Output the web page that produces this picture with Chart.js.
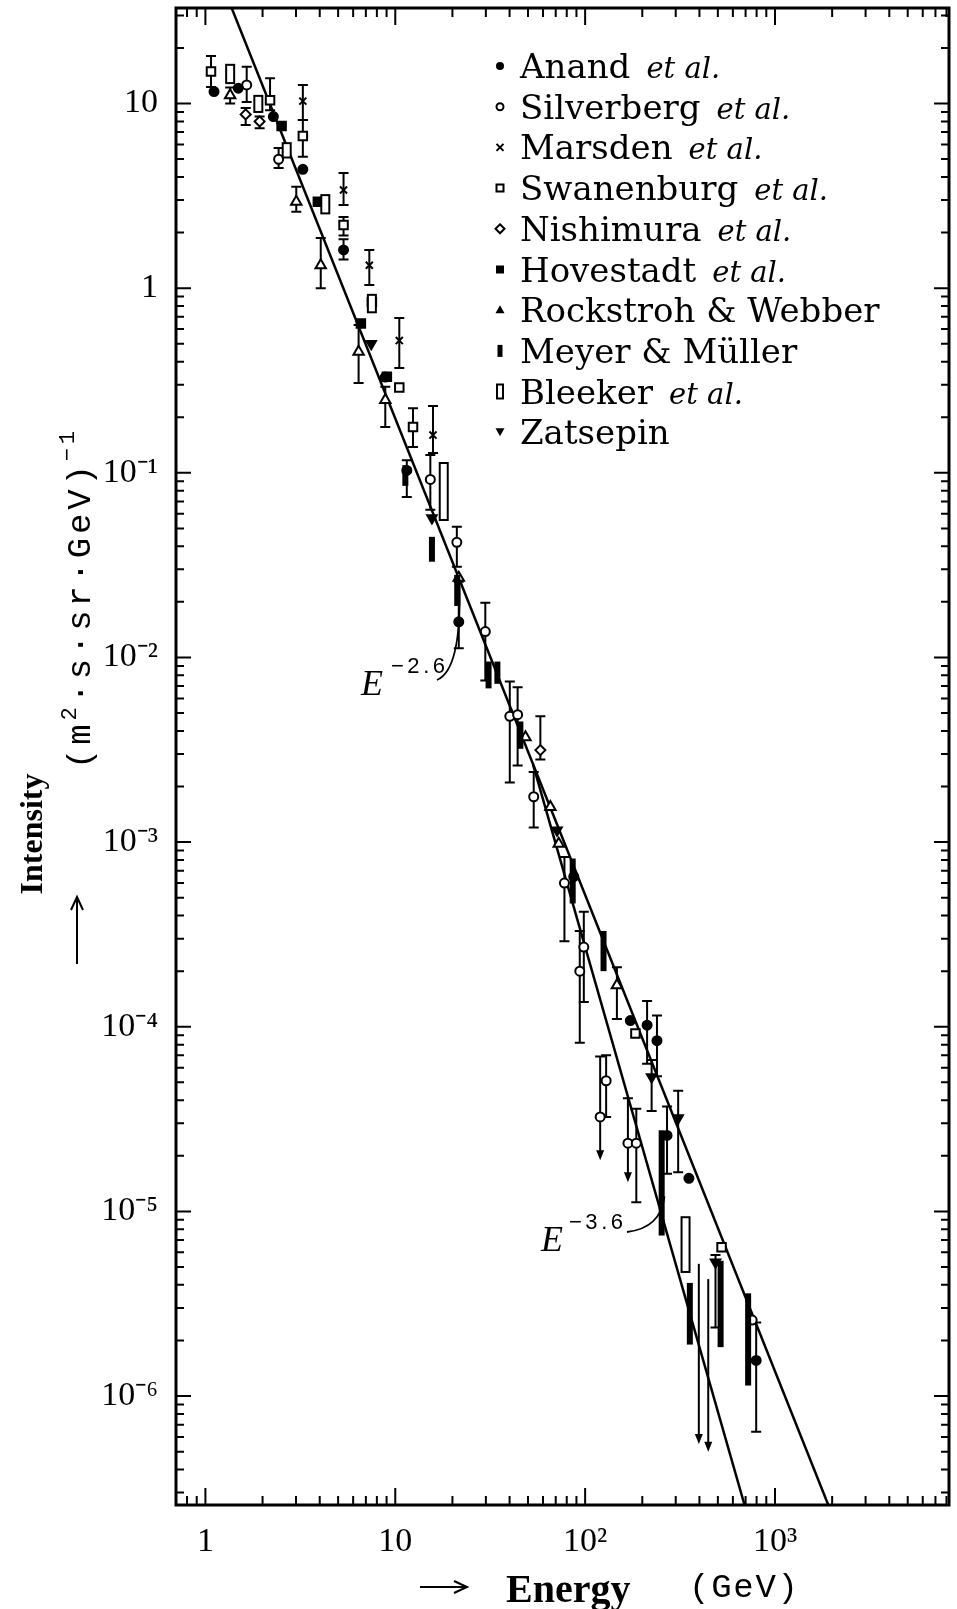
<!DOCTYPE html>
<html>
<head>
<meta charset="utf-8">
<title>Intensity vs Energy</title>
<script src="https://cdn.jsdelivr.net/npm/chart.js@4.4.1/dist/chart.umd.min.js"></script>
<style>
  html, body { margin: 0; padding: 0; background: #fff; }
  canvas { display: block; }
</style>
</head>
<body>
<canvas id="chart" width="957" height="1609"></canvas>
<script>
// each row: [energy (GeV), intensity, lower end, upper end, arrow down to]
const anand = [
  [1.11, 11.6], [1.49, 12.1], [2.28, 8.5], [3.26, 4.4],
  [5.34, 1.61, 1.43, 1.84], [8.86, 0.33], [11.5, 0.103, 0.074, 0.117],
  [21.6, 0.0156, 0.0112, 0.0257], [87.1, 6.5e-4], [173, 1.08e-4],
  [212, 1.02e-4, 6.3e-5, 1.38e-4], [239, 8.4e-5, 5.4e-5, 1.15e-4],
  [270, 2.58e-5, 1.6e-5, 3.7e-5], [352, 1.51e-5], [796, 1.56e-6, 6.4e-7, 2.5e-6]
];
const silverberg = [
  [1.65, 12.6, 10.2, 15.8], [2.43, 4.99, 4.48, 5.74], [15.3, 0.092, 0.063, 0.125],
  [21.1, 0.042, 0.031, 0.051], [29.8, 0.0138, 0.0075, 0.0198], [40.1, 0.0048, 0.0021, 0.0074],
  [44.1, 0.0049, 0.0026, 0.0069], [53.6, 0.00176, 0.0012, 0.0024], [77.8, 6.0e-4, 2.9e-4, 8.3e-4],
  [93.7, 2.0e-4, 8.2e-5, 3.3e-4], [98.4, 2.7e-4, 1.36e-4, 4.2e-4], [129, 5.1e-5, 3.25e-5, 7.0e-5],
  [120, 3.25e-5, null, 6.9e-5, 1.89e-5], [168, 2.34e-5, null, 4.1e-5, 1.44e-5],
  [186, 2.34e-5, 1.12e-5, 3.6e-5], [758, 2.58e-6]
];
const marsden = [
  [3.26, 10.3, 8.15, 12.6], [5.34, 3.4, 2.82, 4.21], [7.30, 1.33, 1.04, 1.61],
  [10.5, 0.52, 0.37, 0.69], [15.8, 0.16, 0.128, 0.23]
];
const swanenburg = [
  [1.07, 14.9, 12.3, 18.1], [2.19, 10.4, 9.2, 13.7], [3.26, 6.67, 5.15, 8.15],
  [5.34, 2.2, 1.93, 2.43], [7.53, 0.84], [10.5, 0.29], [12.4, 0.177, 0.138, 0.224],
  [184, 9.2e-5], [523, 6.4e-6]
];
const nishimura = [
  [1.63, 8.73, 7.65, 9.46], [1.93, 8.0, 7.35, 8.5], [58.1, 0.00315, 0.0028, 0.0048]
];
const hovestadt = [
  [2.52, 7.55], [3.91, 2.94], [6.59, 0.644], [9.03, 0.331]
];
const rockstroh = [
  [1.35, 11.1, 10.0, 12.2], [3.01, 2.94, 2.59, 3.54], [4.05, 1.33, 1.0, 1.87],
  [6.41, 0.452, 0.306, 0.631], [8.86, 0.248, 0.177, 0.292], [21.6, 0.027],
  [48.5, 0.0037], [65.6, 0.00155], [72.6, 0.00098], [147, 1.68e-4, 1.1e-4, 2.1e-4]
];
// box series: [energy, intensity, bottom of box, top of box]
const meyer = [
  [11.3, 0.097, 0.085, 0.11], [15.6, 0.039, 0.033, 0.045], [21.2, 0.023, 0.019, 0.028],
  [31.0, 0.008, 0.0068, 0.0095], [34.5, 0.0083, 0.0072, 0.0095], [45.6, 0.0038, 0.0032, 0.0045],
  [86.0, 6.2e-4, 4.65e-4, 8.15e-4], [125, 2.5e-4, 2.0e-4, 3.3e-4], [253, 1.4e-5, 7.4e-6, 2.75e-5],
  [356, 2.8e-6, 1.9e-6, 4.1e-6], [517, 3.2e-6, 1.84e-6, 5.4e-6], [722, 2.0e-6, 1.14e-6, 3.6e-6]
];
const bleeker = [
  [1.35, 14.4, 12.9, 16.2], [1.90, 10.0, 9.0, 11.0], [2.68, 5.6, 5.1, 6.1],
  [4.28, 2.85, 2.54, 3.19], [7.53, 0.83, 0.74, 0.92], [18.0, 0.08, 0.0555, 0.113],
  [338, 6.5e-6, 4.7e-6, 9.3e-6]
];
const zatsepin = [
  [7.47, 0.50], [15.6, 0.057], [71.1, 0.00116], [224, 5.35e-5, 3.5e-5, 6.6e-5],
  [309, 3.2e-5, 1.63e-5, 4.5e-5], [486, 5.3e-6, 2.35e-6, 5.8e-6]
];
// bare upper limits (no symbol)
const limits = [
  [397, 5.2e-6, null, null, 5.5e-7], [445, 4.3e-6, null, null, 5.0e-7]
];

// fitted power laws, two end points each
const lineE26 = [[1.26, 41.2], [2104, 2.0e-7]];
const lineE36 = [[53.2, 2.63e-3], [741, 2.0e-7]];
// where the label leaders end
const leader26 = [21.8, 0.026];
const leader36 = [262, 1.25e-5];

const xMajor = [1, 10, 100, 1000];
const xMajorLabels = ['1', '10', '10²', '10³'];
const yMajor = [1e-6, 1e-5, 1e-4, 1e-3, 1e-2, 1e-1, 1, 10];
const yMajorLabels = ['10⁻⁶', '10⁻⁵', '10⁻⁴', '10⁻³', '10⁻²', '10⁻¹', '1', '10'];

const legendNames = ['Anand', 'Silverberg', 'Marsden', 'Swanenburg', 'Nishimura', 'Hovestadt',
  'Rockstroh & Webber', 'Meyer & Müller', 'Bleeker', 'Zatsepin'];
const legendEtAl = [true, true, true, true, true, true, false, false, true, false];
const legendMarks = ['dot', 'circle', 'cross', 'square', 'diamond', 'fsquare', 'triangle', 'bar', 'box', 'itri'];

const X_MIN = 0.706, X_MAX = 8250, Y_MIN = 2.57e-7, Y_MAX = 32.9;

// helpers
function pts(rows) { return rows.map(r => ({ x: r[0], y: r[1] })); }

function withMinors(majors, bases, min, max) {
  let out = majors.slice();
  bases.forEach(b => {
    for (let m = 2; m <= 9; m++) {
      let v = m * b;
      if (v >= min && v <= max) out.push(v);
    }
  });
  return out.filter(v => v >= min && v <= max).sort((a, b) => a - b);
}
const xTicks = withMinors(xMajor, [0.1, 1, 10, 100, 1000], X_MIN, X_MAX);
const yTicks = withMinors(yMajor, [1e-7, 1e-6, 1e-5, 1e-4, 1e-3, 1e-2, 1e-1, 1, 10], Y_MIN, Y_MAX);

function isMajor(v) {
  let l = Math.log10(v);
  return Math.abs(l - Math.round(l)) < 1e-6;
}

function runWidth(ctx, parts, spacing) {
  let w = 0;
  parts.forEach(p => {
    ctx.font = p.font;
    for (const ch of p.text) w += ctx.measureText(ch).width + spacing;
  });
  return w - spacing;
}
function drawRun(ctx, parts, x, y, spacing, align) {
  let w = runWidth(ctx, parts, spacing);
  let cx = align === 'center' ? x - w / 2 : x;
  parts.forEach(p => {
    ctx.font = p.font;
    for (const ch of p.text) {
      ctx.fillText(ch, cx, y + (p.dy || 0));
      cx += ctx.measureText(ch).width + spacing;
    }
  });
}
function spacingFor(ctx, parts, target) {
  let n = 0;
  parts.forEach(p => n += [...p.text].length);
  let w = runWidth(ctx, parts, 0);
  return (target - w) / (n - 1);
}

function drawMark(ctx, kind, x, y) {
  ctx.save();
  ctx.lineWidth = 2;
  ctx.strokeStyle = '#000';
  ctx.fillStyle = '#000';
  ctx.beginPath();
  if (kind === 'dot') { ctx.arc(x, y, 4, 0, Math.PI * 2); ctx.fill(); }
  else if (kind === 'circle') { ctx.arc(x, y, 3.5, 0, Math.PI * 2); ctx.stroke(); }
  else if (kind === 'cross') {
    ctx.moveTo(x - 3.5, y - 3.5); ctx.lineTo(x + 3.5, y + 3.5);
    ctx.moveTo(x + 3.5, y - 3.5); ctx.lineTo(x - 3.5, y + 3.5); ctx.stroke();
  }
  else if (kind === 'square') { ctx.rect(x - 3.5, y - 3.5, 7, 7); ctx.stroke(); }
  else if (kind === 'diamond') {
    ctx.moveTo(x, y - 4.5); ctx.lineTo(x + 4.5, y); ctx.lineTo(x, y + 4.5); ctx.lineTo(x - 4.5, y);
    ctx.closePath(); ctx.stroke();
  }
  else if (kind === 'fsquare') { ctx.rect(x - 4, y - 4, 8, 8); ctx.fill(); }
  else if (kind === 'triangle') {
    ctx.moveTo(x, y - 5); ctx.lineTo(x + 4.5, y + 3); ctx.lineTo(x - 4.5, y + 3);
    ctx.closePath(); ctx.fill();
  }
  else if (kind === 'bar') { ctx.rect(x - 2.5, y - 6, 5, 12); ctx.fill(); }
  else if (kind === 'box') { ctx.rect(x - 3, y - 7, 6, 14); ctx.stroke(); }
  else if (kind === 'itri') {
    ctx.moveTo(x - 4.5, y - 4); ctx.lineTo(x + 4.5, y - 4); ctx.lineTo(x, y + 4);
    ctx.closePath(); ctx.fill();
  }
  ctx.restore();
}

// error bars, upper limit arrows, boxes
const errorBars = {
  id: 'errorBars',
  beforeDatasetsDraw(chart) {
    const { ctx, chartArea: a, scales: { x, y } } = chart;
    ctx.save();
    ctx.beginPath(); ctx.rect(a.left, a.top, a.width, a.height); ctx.clip();
    ctx.strokeStyle = '#000'; ctx.fillStyle = '#000'; ctx.lineWidth = 2;
    chart.data.datasets.forEach(ds => {
      if (!ds.rows || ds.box) return;
      ds.rows.forEach(r => {
        const px = x.getPixelForValue(r[0]);
        const py = y.getPixelForValue(r[1]);
        const lo = r[2], hi = r[3], down = r[4];
        if (lo != null || hi != null) {
          const top = y.getPixelForValue(hi != null ? hi : r[1]);
          const bot = y.getPixelForValue(lo != null ? lo : r[1]);
          ctx.beginPath();
          ctx.moveTo(px, top); ctx.lineTo(px, bot);
          if (hi != null) { ctx.moveTo(px - 5, top); ctx.lineTo(px + 5, top); }
          if (lo != null) { ctx.moveTo(px - 5, bot); ctx.lineTo(px + 5, bot); }
          ctx.stroke();
        }
        if (down != null) {
          const end = y.getPixelForValue(down);
          ctx.beginPath(); ctx.moveTo(px, py); ctx.lineTo(px, end - 8); ctx.stroke();
          ctx.beginPath();
          ctx.moveTo(px - 4, end - 10); ctx.lineTo(px + 4, end - 10); ctx.lineTo(px, end);
          ctx.closePath(); ctx.fill();
        }
      });
    });
    ctx.restore();
  },
  afterDatasetsDraw(chart) {
    const { ctx, chartArea: a, scales: { x, y } } = chart;
    ctx.save();
    ctx.beginPath(); ctx.rect(a.left, a.top, a.width, a.height); ctx.clip();
    ctx.strokeStyle = '#000'; ctx.lineWidth = 2;
    chart.data.datasets.forEach(ds => {
      if (!ds.rows || !ds.box) return;
      ds.rows.forEach(r => {
        const px = x.getPixelForValue(r[0]);
        const top = y.getPixelForValue(r[3]);
        const bot = y.getPixelForValue(r[2]);
        if (ds.box === 'open') {
          ctx.fillStyle = '#fff';
          ctx.fillRect(px - 4, top, 8, bot - top);
          ctx.strokeRect(px - 4, top, 8, bot - top);
        } else {
          ctx.fillStyle = '#000';
          ctx.fillRect(px - 3, top, 6, bot - top);
        }
      });
    });
    ctx.restore();
  }
};

// inward ticks on all four sides, frame, legend, titles, line labels
const decorations = {
  id: 'decorations',
  afterDraw(chart) {
    const { ctx, chartArea: a, scales: { x, y } } = chart;
    ctx.save();
    ctx.strokeStyle = '#000'; ctx.fillStyle = '#000'; ctx.lineWidth = 2;
    ctx.beginPath();
    x.ticks.forEach(t => {
      const px = x.getPixelForValue(t.value);
      if (px < a.left + 2 || px > a.right - 2) return;
      const L = isMajor(t.value) ? 17 : 9;
      ctx.moveTo(px, a.bottom); ctx.lineTo(px, a.bottom - L);
      ctx.moveTo(px, a.top); ctx.lineTo(px, a.top + L);
    });
    y.ticks.forEach(t => {
      const py = y.getPixelForValue(t.value);
      if (py < a.top + 2 || py > a.bottom - 2) return;
      const L = isMajor(t.value) ? 15 : 8;
      ctx.moveTo(a.left, py); ctx.lineTo(a.left + L, py);
      ctx.moveTo(a.right, py); ctx.lineTo(a.right - L, py);
    });
    ctx.stroke();
    ctx.lineWidth = 3;
    ctx.strokeRect(a.left, a.top, a.width, a.height);

    // legend
    ctx.textBaseline = 'alphabetic';
    ctx.textAlign = 'left';
    legendNames.forEach((name, i) => {
      const ry = 66 + i * 40.7;
      drawMark(ctx, legendMarks[i], 500, ry);
      ctx.font = "34px 'DejaVu Serif'";
      ctx.fillText(name, 520, ry + 12);
      if (legendEtAl[i]) {
        const w = ctx.measureText(name).width;
        ctx.font = "italic 29px 'DejaVu Serif'";
        ctx.fillText('et al.', 520 + w + 16, ry + 12);
      }
    });

    // y axis title
    ctx.save();
    ctx.translate(42, 834);
    ctx.rotate(-Math.PI / 2);
    ctx.font = "bold 32px 'Liberation Serif'";
    ctx.textAlign = 'center';
    ctx.fillText('Intensity', 0, 0);
    ctx.restore();

    ctx.save();
    ctx.translate(90, 600);
    ctx.rotate(-Math.PI / 2);
    ctx.textAlign = 'left';
    const unit = [
      { text: '(m', font: "34px 'Liberation Mono'" },
      { text: '2', font: "22px 'Liberation Mono'", dy: -14 },
      { text: '·s·sr·GeV)', font: "34px 'Liberation Mono'" },
      { text: '−1', font: "22px 'Liberation Mono'", dy: -16 }
    ];
    drawRun(ctx, unit, 0, 0, spacingFor(ctx, unit, 338), 'center');
    ctx.restore();

    // up arrow under the y title
    ctx.lineWidth = 2;
    ctx.beginPath(); ctx.moveTo(77, 964); ctx.lineTo(77, 899); ctx.stroke();
    ctx.beginPath(); ctx.moveTo(71, 910); ctx.lineTo(77, 897); ctx.lineTo(83, 910); ctx.stroke();

    // x axis title
    ctx.beginPath(); ctx.moveTo(420, 1587); ctx.lineTo(465, 1587); ctx.stroke();
    ctx.beginPath(); ctx.moveTo(454, 1581); ctx.lineTo(467, 1587); ctx.lineTo(454, 1593); ctx.stroke();
    ctx.font = "bold 40px 'Liberation Serif'";
    ctx.fillText('Energy', 506, 1602);
    const gev = [{ text: '(GeV)', font: "34px 'Liberation Mono'" }];
    drawRun(ctx, gev, 689, 1597, spacingFor(ctx, gev, 109), 'left');

    // power law labels
    ctx.font = "italic 36px 'Liberation Serif'";
    ctx.fillText('E', 361, 695);
    const s26 = [{ text: '−2.6', font: "22px 'Liberation Sans'" }];
    drawRun(ctx, s26, 391, 673, spacingFor(ctx, s26, 54), 'left');
    ctx.font = "italic 36px 'Liberation Serif'";
    ctx.fillText('E', 541, 1251);
    const s36 = [{ text: '−3.6', font: "22px 'Liberation Sans'" }];
    drawRun(ctx, s36, 569, 1229, spacingFor(ctx, s36, 54), 'left');

    // leaders
    ctx.lineWidth = 1.8;
    const e26x = x.getPixelForValue(leader26[0]), e26y = y.getPixelForValue(leader26[1]);
    ctx.beginPath(); ctx.moveTo(437, 680); ctx.quadraticCurveTo(e26x + 2, 670, e26x, e26y + 4); ctx.stroke();
    const e36x = x.getPixelForValue(leader36[0]), e36y = y.getPixelForValue(leader36[1]);
    ctx.beginPath(); ctx.moveTo(627, 1232); ctx.quadraticCurveTo(e36x - 4, 1228, e36x, e36y + 3); ctx.stroke();
    ctx.restore();
  }
};

function markerSet(rows, style, extra) {
  return Object.assign({
    data: pts(rows), rows: rows, showLine: false, order: 0,
    pointStyle: style, pointRadius: 5, pointBorderWidth: 2,
    pointBorderColor: '#000', pointBackgroundColor: '#fff'
  }, extra || {});
}
function lineSet(rows) {
  return {
    type: 'line', data: pts(rows), order: 1, borderColor: '#000', borderWidth: 2.5,
    pointRadius: 0, fill: false, tension: 0
  };
}

const datasets = [
  markerSet(anand, 'circle', { label: 'Anand et al.', pointRadius: 4.5, pointBackgroundColor: '#000' }),
  markerSet(silverberg, 'circle', { label: 'Silverberg et al.', pointRadius: 4.5 }),
  markerSet(marsden, 'crossRot', { label: 'Marsden et al.', pointRadius: 5 }),
  markerSet(swanenburg, 'rect', { label: 'Swanenburg et al.', pointRadius: 6 }),
  markerSet(nishimura, 'rectRot', { label: 'Nishimura et al.', pointRadius: 5 }),
  markerSet(hovestadt, 'rect', { label: 'Hovestadt et al.', pointRadius: 6, pointBackgroundColor: '#000' }),
  markerSet(rockstroh, 'triangle', { label: 'Rockstroh & Webber', pointRadius: 6 }),
  markerSet(meyer, 'circle', { label: 'Meyer & Müller', pointRadius: 0, box: 'filled' }),
  markerSet(bleeker, 'circle', { label: 'Bleeker et al.', pointRadius: 0, box: 'open' }),
  markerSet(zatsepin, 'triangle', { label: 'Zatsepin', pointRadius: 5.5, pointRotation: 180, pointBackgroundColor: '#000' }),
  markerSet(limits, 'circle', { label: 'limits', pointRadius: 0 }),
  lineSet(lineE26),
  lineSet(lineE36)
];

function noPad(s) {
  s.paddingLeft = 0; s.paddingRight = 0; s.paddingTop = 0; s.paddingBottom = 0;
}

const chart = new Chart(document.getElementById('chart'), {
  type: 'scatter',
  data: { datasets: datasets },
  plugins: [errorBars, decorations],
  options: {
    responsive: false,
    animation: false,
    layout: { padding: { left: 0, right: 0, top: 8, bottom: 0 } },
    plugins: { legend: { display: false }, tooltip: { enabled: false } },
    scales: {
      x: {
        type: 'logarithmic', position: 'bottom', min: X_MIN, max: X_MAX,
        grid: { display: false }, border: { display: false },
        afterBuildTicks: s => { s.ticks = xTicks.map(v => ({ value: v })); },
        afterFit: s => { s.height = 104; noPad(s); },
        ticks: {
          autoSkip: false, maxRotation: 0, padding: 9, color: '#000',
          font: { family: 'Liberation Serif', size: 34 },
          callback: v => { const i = xMajor.indexOf(v); return i >= 0 ? xMajorLabels[i] : ''; }
        }
      },
      y: {
        type: 'logarithmic', position: 'left', min: Y_MIN, max: Y_MAX,
        grid: { display: false }, border: { display: false },
        afterBuildTicks: s => { s.ticks = yTicks.map(v => ({ value: v })); },
        afterFit: s => { s.width = 176; noPad(s); },
        ticks: {
          autoSkip: false, padding: 10, color: '#000',
          font: { family: 'Liberation Serif', size: 34 },
          callback: v => { const i = yMajor.indexOf(v); return i >= 0 ? yMajorLabels[i] : ''; }
        }
      }
    }
  }
});
</script>
</body>
</html>
